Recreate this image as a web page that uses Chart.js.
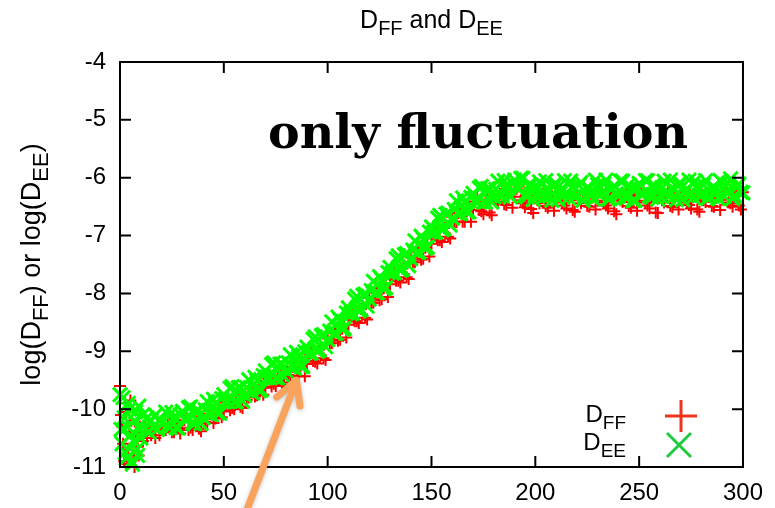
<!DOCTYPE html>
<html>
<head>
<meta charset="utf-8">
<script src="https://cdn.jsdelivr.net/npm/chart.js@4.4.1/dist/chart.umd.min.js"></script>
<style>
  html, body { margin: 0; padding: 0; background: #fff; }
  canvas { display: block; }
</style>
</head>
<body>
<canvas id="chart" width="775" height="508"></canvas>
<script>
// sample times, first pass
var times = [0, 1, 2, 3, 4, 5, 6, 7, 8, 9, 10, 11, 12, 13, 14, 15, 16, 17, 18, 19, 20,
    22, 24, 26, 28, 30, 32, 34, 36, 38, 40, 42, 44, 46, 48, 50, 52, 54, 56, 58, 60,
    62, 64, 66, 68, 70, 72, 74, 76, 78, 80, 82, 84, 86, 88, 90, 92, 94, 96, 98, 100,
    102, 104, 106, 108, 110, 112, 114, 116, 118, 120, 122, 124, 126, 128, 130, 132, 134, 136, 138, 140,
    142, 144, 146, 148, 150, 152, 154, 156, 158, 160, 162, 164, 166, 168, 170, 172, 174, 176, 178, 180,
    182, 184, 186, 188, 190, 192, 194, 196, 198, 200, 202, 204, 206, 208, 210, 212, 214, 216, 218, 220,
    222, 224, 226, 228, 230, 232, 234, 236, 238, 240, 242, 244, 246, 248, 250, 252, 254, 256, 258, 260,
    262, 264, 266, 268, 270, 272, 274, 276, 278, 280, 282, 284, 286, 288, 290, 292, 294, 296, 298, 300];

var logDFF = [-9.6, -10.3, -10.9, -10.05, -10.7, -9.85, -10.5, -11.0, -10.25, -10.8, -10.4,
    -10.55, -10.3, -10.5, -10.25, -10.45, -10.35, -10.5, -10.3, -10.45, -10.35,
    -10.36, -10.24, -10.4, -10.26, -10.33, -10.14, -10.32, -10.24, -10.34, -10.13,
    -10.24, -10.02, -10.16, -10.0, -10.04, -9.82, -9.98, -9.86, -9.96, -9.74,
    -9.8, -9.64, -9.76, -9.6, -9.63, -9.41, -9.56, -9.45, -9.54, -9.32,
    -9.43, -9.21, -9.43, -9.19, -9.22, -8.98, -9.18, -8.97, -9.12, -8.78,
    -8.86, -8.61, -8.8, -8.53, -8.54, -8.29, -8.48, -8.27, -8.42, -8.08,
    -8.16, -7.91, -8.1, -7.83, -7.84, -7.59, -7.78, -7.57, -7.72, -7.38,
    -7.46, -7.21, -7.4, -7.13, -7.14, -6.89, -7.08, -6.87, -7.02, -6.68,
    -6.77, -6.54, -6.76, -6.52, -6.56, -6.35, -6.58, -6.41, -6.6, -6.31,
    -6.43, -6.23, -6.47, -6.26, -6.33, -6.15, -6.44, -6.32, -6.54, -6.28,
    -6.44, -6.26, -6.52, -6.32, -6.4, -6.22, -6.48, -6.34, -6.56, -6.29,
    -6.44, -6.26, -6.5, -6.32, -6.4, -6.22, -6.48, -6.34, -6.58, -6.29,
    -6.42, -6.26, -6.52, -6.32, -6.4, -6.22, -6.48, -6.34, -6.6, -6.29,
    -6.43, -6.25, -6.51, -6.31, -6.39, -6.21, -6.47, -6.33, -6.55, -6.28,
    -6.42, -6.24, -6.5, -6.3, -6.38, -6.2, -6.44, -6.3, -6.48, -6.25];

var logDEE = [-9.75, -10.6, -10.15, -10.85, -9.9, -10.45, -10.95, -10.2, -10.7, -9.95, -10.5,
    -10.1, -10.35, -10.15, -10.4, -10.2, -10.3, -10.1, -10.35, -10.2, -10.25,
    -10.05, -10.32, -10.14, -10.33, -10.04, -10.19, -9.96, -10.25, -10.03, -10.15,
    -9.87, -10.1, -9.9, -10.07, -9.75, -9.87, -9.61, -9.87, -9.63, -9.76,
    -9.49, -9.72, -9.51, -9.67, -9.34, -9.46, -9.2, -9.46, -9.22, -9.34,
    -9.06, -9.29, -9.09, -9.26, -8.93, -9.03, -8.75, -8.98, -8.71, -8.8,
    -8.49, -8.69, -8.46, -8.6, -8.25, -8.34, -8.05, -8.28, -8.01, -8.1,
    -7.79, -7.99, -7.76, -7.9, -7.55, -7.64, -7.35, -7.58, -7.31, -7.4,
    -7.09, -7.29, -7.06, -7.2, -6.85, -6.94, -6.65, -6.88, -6.61, -6.7,
    -6.4, -6.62, -6.42, -6.59, -6.27, -6.4, -6.15, -6.42, -6.19, -6.33,
    -6.06, -6.31, -6.13, -6.33, -6.04, -6.2, -6.01, -6.33, -6.13, -6.3,
    -6.07, -6.34, -6.18, -6.39, -6.11, -6.27, -6.05, -6.35, -6.15, -6.31,
    -6.08, -6.33, -6.19, -6.37, -6.12, -6.26, -6.04, -6.36, -6.14, -6.32,
    -6.06, -6.35, -6.17, -6.39, -6.1, -6.28, -6.05, -6.34, -6.16, -6.31,
    -6.06, -6.33, -6.17, -6.38, -6.1, -6.26, -6.04, -6.34, -6.14, -6.3,
    -6.05, -6.32, -6.16, -6.36, -6.08, -6.24, -6.02, -6.31, -6.11, -6.26];

// sample times, second pass (in between the first)
var timesB = [0.5, 1.5, 2.5, 3.5, 4.5, 5.5, 6.5, 7.5, 8.5, 9.5,
    23, 25, 27, 29, 31, 33, 35, 37, 39, 41, 43, 45, 47, 49, 51, 53, 55, 57, 59, 61,
    63, 65, 67, 69, 71, 73, 75, 77, 79, 81, 83, 85, 87, 89, 91, 93, 95, 97, 99, 101,
    103, 105, 107, 109, 111, 113, 115, 117, 119, 121, 123, 125, 127, 129, 131, 133, 135, 137, 139, 141,
    143, 145, 147, 149, 151, 153, 155, 157, 159, 161, 163, 165, 167, 169, 171, 173, 175, 177, 179, 181,
    183, 185, 187, 189, 191, 193, 195, 197, 199, 201, 203, 205, 207, 209, 211, 213, 215, 217, 219, 221,
    223, 225, 227, 229, 231, 233, 235, 237, 239, 241, 243, 245, 247, 249, 251, 253, 255, 257, 259, 261,
    263, 265, 267, 269, 271, 273, 275, 277, 279, 281, 283, 285, 287, 289, 291, 293, 295, 297, 299];

var logDFFb = [-10.1, -10.6, -9.9, -10.95, -10.4, -10.2, -10.85, -10.45, -10.65, -10.3,
    -10.28, -10.4, -10.31, -10.42, -10.19, -10.36, -10.36, -10.21, -10.38, -10.22,
    -10.08, -10.24, -10.06, -10.14, -9.88, -10.02, -10.0, -9.82, -9.98, -9.84,
    -9.7, -9.78, -9.67, -9.75, -9.47, -9.61, -9.6, -9.41, -9.58, -9.41,
    -9.27, -9.43, -9.25, -9.43, -9.05, -9.17, -9.21, -8.92, -9.15, -8.86,
    -8.69, -8.82, -8.61, -8.76, -8.37, -8.48, -8.51, -8.22, -8.45, -8.16,
    -7.99, -8.12, -7.91, -8.06, -7.67, -7.78, -7.81, -7.52, -7.75, -7.46,
    -7.29, -7.42, -7.21, -7.36, -6.97, -7.08, -7.11, -6.82, -7.05, -6.76,
    -6.61, -6.76, -6.58, -6.76, -6.41, -6.56, -6.63, -6.38, -6.65, -6.41,
    -6.28, -6.46, -6.31, -6.52, -6.19, -6.39, -6.51, -6.31, -6.61, -6.39,
    -6.29, -6.49, -6.35, -6.57, -6.25, -6.43, -6.53, -6.31, -6.59, -6.39,
    -6.29, -6.49, -6.35, -6.55, -6.25, -6.43, -6.53, -6.31, -6.63, -6.39,
    -6.29, -6.49, -6.35, -6.57, -6.25, -6.43, -6.53, -6.31, -6.61, -6.39,
    -6.29, -6.49, -6.35, -6.55, -6.25, -6.43, -6.53, -6.31, -6.59, -6.39,
    -6.29, -6.49, -6.35, -6.56, -6.25, -6.43, -6.5, -6.31, -6.55];

var logDEEb = [-10.35, -9.8, -10.75, -10.3, -10.0, -10.9, -10.55, -10.05, -10.8, -10.35,
    -10.28, -10.06, -10.32, -10.1, -10.17, -9.98, -10.24, -10.02, -10.25, -10.01,
    -10.08, -9.83, -10.07, -9.82, -9.86, -9.64, -9.87, -9.63, -9.86, -9.63,
    -9.7, -9.45, -9.68, -9.42, -9.45, -9.23, -9.46, -9.22, -9.44, -9.2,
    -9.27, -9.02, -9.26, -9.01, -9.03, -8.79, -9.0, -8.73, -8.92, -8.65,
    -8.69, -8.41, -8.62, -8.34, -8.35, -8.1, -8.3, -8.03, -8.22, -7.95,
    -7.99, -7.71, -7.92, -7.64, -7.65, -7.4, -7.6, -7.33, -7.52, -7.25,
    -7.29, -7.01, -7.22, -6.94, -6.95, -6.7, -6.9, -6.63, -6.82, -6.55,
    -6.61, -6.35, -6.59, -6.34, -6.39, -6.18, -6.42, -6.19, -6.42, -6.2,
    -6.28, -6.05, -6.28, -6.1, -6.17, -6.01, -6.3, -6.12, -6.38, -6.18,
    -6.29, -6.05, -6.32, -6.12, -6.38, -6.18, -6.27, -6.06, -6.33, -6.13,
    -6.39, -6.17, -6.3, -6.04, -6.31, -6.11, -6.37, -6.19, -6.28, -6.06,
    -6.33, -6.12, -6.39, -6.18, -6.29, -6.05, -6.31, -6.13, -6.37, -6.17,
    -6.28, -6.04, -6.32, -6.11, -6.38, -6.19, -6.29, -6.06, -6.31, -6.12,
    -6.36, -6.18, -6.27, -6.05, -6.32, -6.1, -6.36, -6.16, -6.25];

var xTicks = [0, 50, 100, 150, 200, 250, 300];
var yTicks = [-11, -10, -9, -8, -7, -6, -5, -4];

// annotation arrow, in data units (tail is below the axis)
var arrowFrom = { x: 61, y: -11.75 };
var arrowTo = { x: 85, y: -9.5 };

function toPoints(ts, ys) {
    return ts.map(function (t, i) { return { x: t, y: ys[i] }; });
}

// draws text where parts marked true are subscripts
function subText(ctx, parts, x, y, size, align) {
    var sub = Math.round(size * 0.8);
    var w = 0;
    parts.forEach(function (p) {
        ctx.font = (p[1] ? sub : size) + 'px "Liberation Sans", Arial, sans-serif';
        w += ctx.measureText(p[0]).width;
    });
    var cx = x;
    if (align === 'center') cx = x - w / 2;
    if (align === 'right') cx = x - w;
    ctx.textAlign = 'left';
    ctx.textBaseline = 'alphabetic';
    parts.forEach(function (p) {
        ctx.font = (p[1] ? sub : size) + 'px "Liberation Sans", Arial, sans-serif';
        ctx.fillText(p[0], cx, p[1] ? y + size * 0.28 : y);
        cx += ctx.measureText(p[0]).width;
    });
    return w;
}

var decor = {
    id: 'decor',
    afterDraw: function (chart) {
        var ctx = chart.ctx;
        var a = chart.chartArea;
        var xs = chart.scales.x, ys = chart.scales.y;
        ctx.save();

        // frame + inward ticks on all four sides
        ctx.strokeStyle = '#000';
        ctx.lineWidth = 2;
        ctx.strokeRect(a.left, a.top, a.right - a.left, a.bottom - a.top);
        ctx.beginPath();
        xTicks.forEach(function (v) {
            var px = xs.getPixelForValue(v);
            ctx.moveTo(px, a.bottom); ctx.lineTo(px, a.bottom - 11);
            ctx.moveTo(px, a.top); ctx.lineTo(px, a.top + 11);
        });
        yTicks.forEach(function (v) {
            var py = ys.getPixelForValue(v);
            ctx.moveTo(a.left, py); ctx.lineTo(a.left + 11, py);
            ctx.moveTo(a.right, py); ctx.lineTo(a.right - 11, py);
        });
        ctx.stroke();

        ctx.fillStyle = '#000';
        // title
        subText(ctx, [['D', false], ['FF', true], [' and D', false], ['EE', true]], (a.left + a.right) / 2, 28, 25, 'center');

        // y label, rotated
        ctx.save();
        ctx.translate(40, (a.top + a.bottom) / 2);
        ctx.rotate(-Math.PI / 2);
        subText(ctx, [['log(D', false], ['FF', true], [') or log(D', false], ['EE', true], [')', false]], 0, 0, 27, 'center');
        ctx.restore();

        // big label
        var fs = 45;
        ctx.font = 'bold ' + fs + 'px "DejaVu Serif", serif';
        var tw = ctx.measureText('only fluctuation').width;
        fs = fs * 420 / tw;
        ctx.font = 'bold ' + fs.toFixed(1) + 'px "DejaVu Serif", serif';
        ctx.textAlign = 'center';
        ctx.textBaseline = 'alphabetic';
        ctx.fillText('only fluctuation', 478, 148);

        // legend
        subText(ctx, [['D', false], ['FF', true]], 626, 422, 24, 'right');
        subText(ctx, [['D', false], ['EE', true]], 626, 450, 24, 'right');
        ctx.lineWidth = 3;
        ctx.strokeStyle = '#f0321e';
        ctx.beginPath();
        ctx.moveTo(665, 416); ctx.lineTo(697, 416);
        ctx.moveTo(681, 400); ctx.lineTo(681, 432);
        ctx.stroke();
        ctx.strokeStyle = '#1ecb3c';
        ctx.beginPath();
        ctx.moveTo(667, 433); ctx.lineTo(691, 457);
        ctx.moveTo(691, 433); ctx.lineTo(667, 457);
        ctx.stroke();

        // orange arrow
        var x0 = xs.getPixelForValue(arrowFrom.x), y0 = ys.getPixelForValue(arrowFrom.y);
        var x1 = xs.getPixelForValue(arrowTo.x), y1 = ys.getPixelForValue(arrowTo.y);
        var ang = Math.atan2(y1 - y0, x1 - x0);
        ctx.strokeStyle = '#f9a25c';
        ctx.lineWidth = 7;
        ctx.lineCap = 'round';
        ctx.lineJoin = 'round';
        ctx.shadowColor = 'rgba(0,0,0,0.25)';
        ctx.shadowBlur = 4;
        ctx.shadowOffsetY = 1;
        ctx.beginPath();
        ctx.moveTo(x0, y0); ctx.lineTo(x1, y1);
        ctx.moveTo(x1 + 26 * Math.cos(ang + Math.PI - 0.5), y1 + 26 * Math.sin(ang + Math.PI - 0.5));
        ctx.lineTo(x1, y1);
        ctx.lineTo(x1 + 26 * Math.cos(ang + Math.PI + 0.5), y1 + 26 * Math.sin(ang + Math.PI + 0.5));
        ctx.stroke();

        ctx.restore();
    }
};

var tickFont = { family: '"Liberation Sans", Arial, sans-serif', size: 24 };

new Chart(document.getElementById('chart'), {
    type: 'scatter',
    data: {
        datasets: [{
            label: 'D_EE',
            data: toPoints(times, logDEE).concat(toPoints(timesB, logDEEb)),
            pointStyle: 'crossRot',
            pointRadius: 10,
            borderColor: '#00ff00',
            backgroundColor: '#00ff00',
            pointBorderWidth: 3,
            clip: false,
            order: 1
        }, {
            label: 'D_FF',
            data: toPoints(times, logDFF).concat(toPoints(timesB, logDFFb)),
            pointStyle: 'cross',
            pointRadius: 6,
            borderColor: '#ff0000',
            backgroundColor: '#ff0000',
            pointBorderWidth: 2,
            clip: false,
            order: 2
        }]
    },
    options: {
        responsive: false,
        animation: false,
        layout: { padding: { left: 0, top: 62, right: 26, bottom: 0 } },
        plugins: {
            legend: { display: false },
            tooltip: { enabled: false }
        },
        scales: {
            x: {
                type: 'linear',
                min: 0,
                max: 300,
                afterFit: function (scale) { scale.height = 41; },
                afterBuildTicks: function (scale) { scale.ticks = xTicks.map(function (v) { return { value: v }; }); },
                grid: { display: false, drawTicks: false },
                border: { display: false },
                ticks: { color: '#000', font: tickFont, padding: 12, maxRotation: 0 }
            },
            y: {
                type: 'linear',
                min: -11,
                max: -4,
                afterFit: function (scale) { scale.width = 120; },
                afterBuildTicks: function (scale) { scale.ticks = yTicks.map(function (v) { return { value: v }; }); },
                grid: { display: false, drawTicks: false },
                border: { display: false },
                ticks: { color: '#000', font: tickFont, padding: 14 }
            }
        }
    },
    plugins: [decor]
});
</script>
</body>
</html>
